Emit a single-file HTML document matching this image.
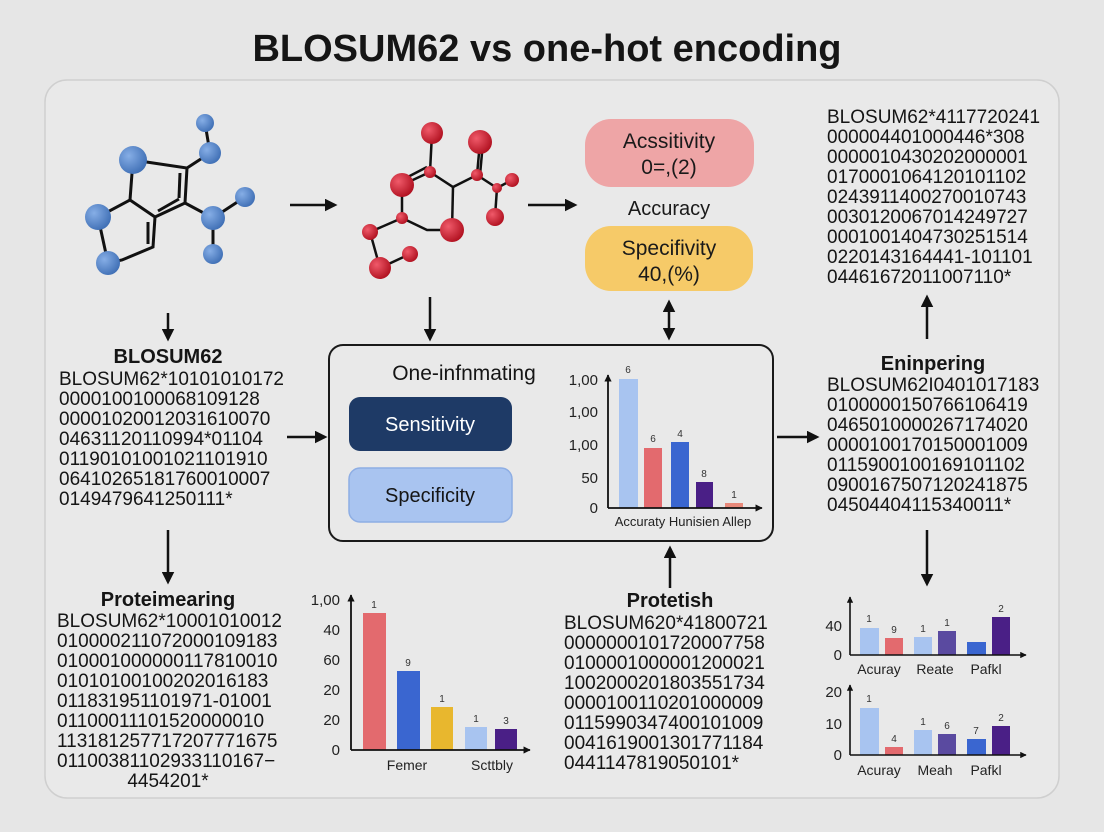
<!DOCTYPE html>
<html><head><meta charset="utf-8"><style>
html,body{margin:0;padding:0;background:#e6e6e6;}
svg{display:block;font-family:"Liberation Sans",sans-serif;}
.c{font-size:19px;fill:#151515;}
.h{font-size:20px;font-weight:bold;fill:#151515;}
.ax{font-size:15px;fill:#222;}
.bl{font-size:10px;fill:#333;}
</style></head><body>
<svg width="1104" height="832" viewBox="0 0 1104 832" xmlns="http://www.w3.org/2000/svg">
<defs>
<radialGradient id="gb" cx="35%" cy="35%" r="70%"><stop offset="0" stop-color="#86aee6"/><stop offset="1" stop-color="#3f6fb5"/></radialGradient>
<radialGradient id="gr" cx="35%" cy="35%" r="70%"><stop offset="0" stop-color="#f05a6a"/><stop offset="1" stop-color="#b0101f"/></radialGradient>
<marker id="ah" viewBox="0 0 10 10" refX="8" refY="5" markerWidth="5" markerHeight="5" orient="auto-start-reverse"><path d="M0,0 L10,5 L0,10 z" fill="#111"/></marker>
<marker id="sa" viewBox="0 0 10 10" refX="9" refY="5" markerWidth="4" markerHeight="4" orient="auto"><path d="M0,0 L10,5 L0,10 z" fill="#111"/></marker>
</defs>
<rect width="1104" height="832" fill="#e6e6e6"/>
<text x="547" y="61" text-anchor="middle" font-size="38" font-weight="bold" fill="#151515">BLOSUM62 vs one-hot encoding</text>
<rect x="45" y="80" width="1014" height="718" rx="22" fill="#e9e9e9" stroke="#cfcfcf" stroke-width="1.5"/>

<g stroke="#111" stroke-width="3" fill="none">
<path d="M133,160 L187,168 L185,203 L155,217 L130,200 Z"/>
<path d="M180,173 L179,198"/>
<path d="M158,211 L179,199"/>
<path d="M130,200 L98,217 L108,263 L122,260 L153,247 L155,217"/>
<path d="M148,222 L148,244"/>
<path d="M187,168 L210,153 L205,123"/>
<path d="M185,203 L213,218 L245,197"/>
<path d="M213,218 L213,254"/>
</g>
<g fill="url(#gb)">
<circle cx="133" cy="160" r="14"/><circle cx="205" cy="123" r="9"/><circle cx="210" cy="153" r="11"/>
<circle cx="98" cy="217" r="13"/><circle cx="108" cy="263" r="12"/><circle cx="245" cy="197" r="10"/>
<circle cx="213" cy="218" r="12"/><circle cx="213" cy="254" r="10"/>
</g>
<g stroke="#111" stroke-width="2.5" fill="none">
<path d="M432,133 L430,172 L453,187 L477,175 L480,142"/>
<path d="M430,172 L402,185"/><path d="M427,167 L402,180"/>
<path d="M483,142 L480,175"/>
<path d="M477,175 L497,188 L512,180"/><path d="M497,188 L495,217"/>
<path d="M453,187 L452,230"/>
<path d="M402,185 L402,218 L370,232 L380,268 L410,254"/>
<path d="M402,218 L427,230 L452,230"/>
</g>
<g fill="url(#gr)">
<circle cx="432" cy="133" r="11"/><circle cx="480" cy="142" r="12"/><circle cx="430" cy="172" r="6"/>
<circle cx="402" cy="185" r="12"/><circle cx="477" cy="175" r="6"/><circle cx="497" cy="188" r="5"/>
<circle cx="512" cy="180" r="7"/><circle cx="495" cy="217" r="9"/><circle cx="452" cy="230" r="12"/>
<circle cx="402" cy="218" r="6"/><circle cx="370" cy="232" r="8"/><circle cx="380" cy="268" r="11"/>
<circle cx="410" cy="254" r="8"/>
</g>

<g stroke="#111" stroke-width="2.5" marker-end="url(#ah)">
<line x1="290" y1="205" x2="335" y2="205"/>
<line x1="528" y1="205" x2="575" y2="205"/>
<line x1="168" y1="313" x2="168" y2="339"/>
<line x1="430" y1="297" x2="430" y2="339"/>
<line x1="287" y1="437" x2="325" y2="437"/>
<line x1="777" y1="437" x2="817" y2="437"/>
<line x1="927" y1="339" x2="927" y2="297"/>
<line x1="168" y1="530" x2="168" y2="582"/>
<line x1="927" y1="530" x2="927" y2="584"/>
<line x1="670" y1="588" x2="670" y2="548"/>
<line x1="669" y1="302" x2="669" y2="338" marker-start="url(#ah)"/>
</g>

<rect x="585" y="119" width="169" height="68" rx="26" fill="#eea5a6"/>
<text x="669" y="148" text-anchor="middle" font-size="21" fill="#1a1a1a">Acssitivity</text>
<text x="669" y="174" text-anchor="middle" font-size="21" fill="#1a1a1a">0=,(2)</text>
<text x="669" y="215" text-anchor="middle" font-size="20" fill="#1a1a1a">Accuracy</text>
<rect x="585" y="226" width="168" height="65" rx="26" fill="#f6ca68"/>
<text x="669" y="255" text-anchor="middle" font-size="21" fill="#1a1a1a">Specifivity</text>
<text x="669" y="281" text-anchor="middle" font-size="21" fill="#1a1a1a">40,(%)</text>

<text class="c" x="827" y="123"><tspan x="827">BLOSUM62*4117720241</tspan><tspan x="827" dy="20">000004401000446*308</tspan><tspan x="827" dy="20">0000010430202000001</tspan><tspan x="827" dy="20">0170001064120101102</tspan><tspan x="827" dy="20">0243911400270010743</tspan><tspan x="827" dy="20">0030120067014249727</tspan><tspan x="827" dy="20">0001001404730251514</tspan><tspan x="827" dy="20">0220143164441-101101</tspan><tspan x="827" dy="20">044616720110071​10*</tspan></text>

<text class="h" x="168" y="363" text-anchor="middle">BLOSUM62</text>
<text class="c" x="59" y="385"><tspan x="59">BLOSUM62*10101010172</tspan><tspan x="59" dy="20">0000100100068109128</tspan><tspan x="59" dy="20">00001020012031610070</tspan><tspan x="59" dy="20">046311201109​94*01104</tspan><tspan x="59" dy="20">01190101001021101910</tspan><tspan x="59" dy="20">06410265181760010007</tspan><tspan x="59" dy="20">0149479641250111*</tspan></text>

<rect x="329" y="345" width="444" height="196" rx="14" fill="none" stroke="#1a1a1a" stroke-width="2"/>
<text x="464" y="380" text-anchor="middle" font-size="21" fill="#151515">One-infnmating</text>
<rect x="349" y="397" width="163" height="54" rx="11" fill="#1e3a66"/>
<text x="430" y="431" text-anchor="middle" font-size="20" fill="#fff">Sensitivity</text>
<rect x="349" y="468" width="163" height="54" rx="11" fill="#a9c4f0" stroke="#8eaee4" stroke-width="1.5"/>
<text x="430" y="502" text-anchor="middle" font-size="20" fill="#151515">Specificity</text>
<rect x="619" y="379" width="19" height="129" fill="#a8c4f0"/>
<rect x="644" y="448" width="18" height="60" fill="#e36a6e"/>
<rect x="671" y="442" width="18" height="66" fill="#3a66d0"/>
<rect x="696" y="482" width="17" height="26" fill="#4a1f86"/>
<rect x="725" y="503" width="18" height="5" fill="#e8897a"/>
<g stroke="#111" stroke-width="1.8"><line x1="608" y1="508" x2="608" y2="375" marker-end="url(#sa)"/><line x1="608" y1="508" x2="762" y2="508" marker-end="url(#sa)"/></g>
<g class="ax" text-anchor="end"><text x="598" y="385">1,00</text><text x="598" y="417">1,00</text><text x="598" y="450">1,00</text><text x="598" y="483">50</text><text x="598" y="513">0</text></g>
<g class="bl" text-anchor="middle"><text x="628" y="373">6</text><text x="653" y="442">6</text><text x="680" y="437">4</text><text x="704" y="477">8</text><text x="734" y="498">1</text></g>
<text x="683" y="526" text-anchor="middle" font-size="13" fill="#222">Accuraty Hunisien Allep</text>

<text class="h" x="933" y="370" text-anchor="middle" font-weight="normal">Eninpering</text>
<text class="c" x="827" y="391"><tspan x="827">BLOSUM62I0401017183</tspan><tspan x="827" dy="20">0100000150766106419</tspan><tspan x="827" dy="20">0465010000267174020</tspan><tspan x="827" dy="20">0000100170150001009</tspan><tspan x="827" dy="20">0115900100169101102</tspan><tspan x="827" dy="20">0900167507120241875</tspan><tspan x="827" dy="20">045044041153400​11*</tspan></text>

<text class="h" x="168" y="606" text-anchor="middle" font-weight="normal">Proteimearing</text>
<text class="c" x="57" y="627"><tspan x="57">BLOSUM62*10001010012</tspan><tspan x="57" dy="20">010000211072000109183</tspan><tspan x="57" dy="20">010001000000117810010</tspan><tspan x="57" dy="20">0101010010020201618​3</tspan><tspan x="57" dy="20">011831951101971-01001</tspan><tspan x="57" dy="20">01100011101520000010</tspan><tspan x="57" dy="20">113181257717207771675</tspan><tspan x="57" dy="20">01100381102933110167−</tspan><tspan x="168" dy="20" text-anchor="middle">4454201*</tspan></text>

<rect x="363" y="613" width="23" height="137" fill="#e36a6e"/>
<rect x="397" y="671" width="23" height="79" fill="#3a66d0"/>
<rect x="431" y="707" width="22" height="43" fill="#e8b72e"/>
<rect x="465" y="727" width="22" height="23" fill="#a8c4f0"/>
<rect x="495" y="729" width="22" height="21" fill="#4a1f86"/>
<g stroke="#111" stroke-width="1.8"><line x1="351" y1="750" x2="351" y2="595" marker-end="url(#sa)"/><line x1="351" y1="750" x2="530" y2="750" marker-end="url(#sa)"/></g>
<g class="ax" text-anchor="end"><text x="340" y="605">1,00</text><text x="340" y="635">40</text><text x="340" y="665">60</text><text x="340" y="695">20</text><text x="340" y="725">20</text><text x="340" y="755">0</text></g>
<g class="bl" text-anchor="middle"><text x="374" y="608">1</text><text x="408" y="666">9</text><text x="442" y="702">1</text><text x="476" y="722">1</text><text x="506" y="724">3</text></g>
<g font-size="14" fill="#222" text-anchor="middle"><text x="407" y="770">Femer</text><text x="492" y="770">Scttbly</text></g>

<text class="h" x="670" y="607" text-anchor="middle" font-weight="normal">Protetish</text>
<text class="c" x="564" y="629"><tspan x="564">BLOSUM620*41800721</tspan><tspan x="564" dy="20">0000000101720007758</tspan><tspan x="564" dy="20">0100001000001200021</tspan><tspan x="564" dy="20">1002000201803551734</tspan><tspan x="564" dy="20">0000100110201000009</tspan><tspan x="564" dy="20">0115990347400101009</tspan><tspan x="564" dy="20">0041619001301771184</tspan><tspan x="564" dy="20">0441147819050101*</tspan></text>

<rect x="860" y="628" width="19" height="27" fill="#a8c4f0"/>
<rect x="885" y="638" width="18" height="17" fill="#e36a6e"/>
<rect x="914" y="637" width="18" height="18" fill="#a8c4f0"/>
<rect x="938" y="631" width="18" height="24" fill="#5a4aa0"/>
<rect x="967" y="642" width="19" height="13" fill="#3a66d0"/>
<rect x="992" y="617" width="18" height="38" fill="#4a1f86"/>
<g stroke="#111" stroke-width="1.6"><line x1="850" y1="655" x2="850" y2="597" marker-end="url(#sa)"/><line x1="850" y1="655" x2="1026" y2="655" marker-end="url(#sa)"/></g>
<g class="ax" text-anchor="end"><text x="842" y="631">40</text><text x="842" y="660">0</text></g>
<g class="bl" text-anchor="middle"><text x="869" y="622">1</text><text x="894" y="633">9</text><text x="923" y="632">1</text><text x="947" y="626">1</text><text x="1001" y="612">2</text></g>
<g font-size="14" fill="#222" text-anchor="middle"><text x="879" y="674">Acuray</text><text x="935" y="674">Reate</text><text x="986" y="674">Pafkl</text></g>

<rect x="860" y="708" width="19" height="47" fill="#a8c4f0"/>
<rect x="885" y="747" width="18" height="8" fill="#e36a6e"/>
<rect x="914" y="730" width="18" height="25" fill="#a8c4f0"/>
<rect x="938" y="734" width="18" height="21" fill="#5a4aa0"/>
<rect x="967" y="739" width="19" height="16" fill="#3a66d0"/>
<rect x="992" y="726" width="18" height="29" fill="#4a1f86"/>
<g stroke="#111" stroke-width="1.6"><line x1="850" y1="755" x2="850" y2="685" marker-end="url(#sa)"/><line x1="850" y1="755" x2="1026" y2="755" marker-end="url(#sa)"/></g>
<g class="ax" text-anchor="end"><text x="842" y="697">20</text><text x="842" y="729">10</text><text x="842" y="760">0</text></g>
<g class="bl" text-anchor="middle"><text x="869" y="702">1</text><text x="894" y="742">4</text><text x="923" y="725">1</text><text x="947" y="729">6</text><text x="976" y="734">7</text><text x="1001" y="721">2</text></g>
<g font-size="14" fill="#222" text-anchor="middle"><text x="879" y="775">Acuray</text><text x="935" y="775">Meah</text><text x="986" y="775">Pafkl</text></g>
</svg>
</body></html>
